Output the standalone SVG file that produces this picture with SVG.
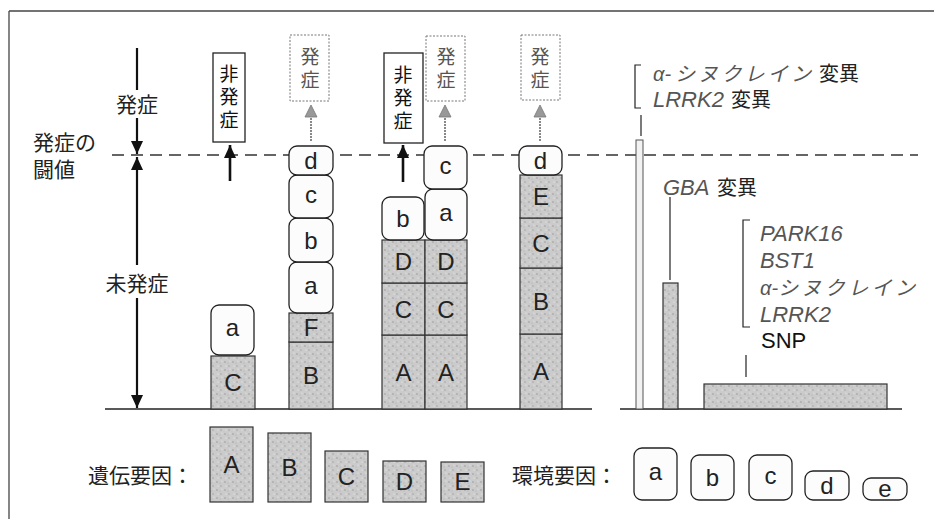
<svg xmlns="http://www.w3.org/2000/svg" width="934" height="519" viewBox="0 0 934 519">
<defs>
<pattern id="stip" width="8" height="8" patternUnits="userSpaceOnUse">
<rect width="8" height="8" fill="#cbcbcb"/>
<circle cx="1" cy="2" r="0.7" fill="#8f8f8f"/>
<circle cx="5" cy="6" r="0.7" fill="#999"/>
<circle cx="6" cy="1" r="0.6" fill="#eee"/>
<circle cx="2" cy="6" r="0.6" fill="#f0f0f0"/>
<circle cx="4" cy="3" r="0.5" fill="#a8a8a8"/>
</pattern>
<marker id="hb" viewBox="0 0 13 12" refX="13" refY="6" markerWidth="13" markerHeight="12" markerUnits="userSpaceOnUse" orient="auto">
<path d="M0,0 L13,6 L0,12 Z" fill="#111"/>
</marker>
</defs>
<style>
.gene{fill:url(#stip);stroke:#333;stroke-width:1.2}
.env{fill:#fcfcfc;stroke:#222;stroke-width:1.3}
.lt{font-family:"Liberation Sans",Arial,sans-serif;font-size:24px;text-anchor:middle;fill:#222}
.jp{font-family:"Noto Sans CJK JP",sans-serif;font-size:21px;fill:#222}
.vt{font-family:"Noto Sans CJK JP",sans-serif;font-size:19px;text-anchor:middle;fill:#111;writing-mode:vertical-rl;letter-spacing:4px}
.vg{font-family:"Noto Sans CJK JP",sans-serif;font-size:19px;text-anchor:middle;fill:#555;writing-mode:vertical-rl;letter-spacing:4px}
.nbox{fill:#fff;stroke:#222;stroke-width:1.3}
.obox{fill:#fff;stroke:#777;stroke-width:1;stroke-dasharray:2 1.5}
.it{font-family:"Liberation Sans",Arial,sans-serif;font-size:22px;font-style:italic;fill:#555}
.itj{font-family:"Noto Sans CJK JP",sans-serif;font-size:20px;font-style:italic;fill:#555}
.rl{font-family:"Noto Sans CJK JP",sans-serif;font-size:20px;fill:#222}
.ln{stroke:#222;stroke-width:1.2;fill:none}
.ax{stroke:#111;stroke-width:2.2}
.na{stroke:#111;stroke-width:2.6}
</style>

<g id="frame">
<line x1="9" y1="11" x2="934" y2="11" stroke="#444" stroke-width="1.3"/>
<line x1="9" y1="11" x2="9" y2="519" stroke="#444" stroke-width="1.3"/>
</g>

<g id="connectors">
<line x1="112" y1="155" x2="918" y2="155" stroke="#333" stroke-width="1.3" stroke-dasharray="12 7"/>
<line x1="105" y1="409" x2="592" y2="409" stroke="#222" stroke-width="1.5"/>
<line x1="620" y1="409" x2="902" y2="409" stroke="#222" stroke-width="1.5"/>
<line class="ax" x1="137" y1="48" x2="137" y2="90"/>
<line class="ax" x1="137" y1="118" x2="137" y2="154" marker-end="url(#hb)"/>
<line class="ax" x1="137" y1="265" x2="137" y2="157" marker-end="url(#hb)"/>
<line class="ax" x1="137" y1="298" x2="137" y2="408" marker-end="url(#hb)"/>
<line class="na" x1="230" y1="181" x2="230" y2="145" marker-end="url(#hb)"/>
<line class="na" x1="403" y1="182" x2="403" y2="145" marker-end="url(#hb)"/>
<g stroke="#888" stroke-width="2" stroke-dasharray="2 1">
<line x1="311" y1="141" x2="311" y2="116"/>
<line x1="445" y1="141" x2="445" y2="116"/>
<line x1="540" y1="141" x2="540" y2="116"/>
</g>
<g fill="#999" stroke="#777" stroke-width="0.8">
<path d="M305,117 L311,105 L317,117 Z"/>
<path d="M439,117 L445,105 L451,117 Z"/>
<path d="M534,117 L540,105 L546,117 Z"/>
</g>
<line class="ln" x1="641" y1="115" x2="641" y2="136"/>
<line class="ln" x1="670" y1="197" x2="670" y2="280"/>
<line class="ln" x1="746" y1="355" x2="746" y2="377"/>
<path class="ln" d="M641,65 L635,65 L635,108 L641,108"/>
<path class="ln" d="M750,220 L743,220 L743,327 L750,327"/>
</g>

<g id="axis-labels">
<text class="jp" x="137" y="112" text-anchor="middle">発症</text>
<text class="jp" x="33" y="150">発症の<tspan x="33" y="177">闘値</tspan></text>
<text class="jp" x="137" y="291" text-anchor="middle">未発症</text>
</g>

<g id="nonset1">
<rect class="nbox" x="213" y="53" width="32" height="89"/>
<text class="vt" x="229" y="99">非発症</text>
</g>
<g id="onset2">
<rect class="obox" x="290" y="35" width="39" height="66"/>
<text class="vg" x="310" y="70">発症</text>
</g>
<g id="nonset3">
<rect class="nbox" x="384" y="53" width="39" height="90"/>
<text class="vt" x="403" y="100">非発症</text>
</g>
<g id="onset4">
<rect class="obox" x="426" y="36" width="39" height="65"/>
<text class="vg" x="446" y="70">発症</text>
</g>
<g id="onset5">
<rect class="obox" x="521" y="35" width="39" height="65"/>
<text class="vg" x="540" y="70">発症</text>
</g>

<g id="stack1">
<rect class="gene" x="211" y="356" width="44" height="53"/><text class="lt" x="233" y="391">C</text>
<rect class="env" x="211" y="305" width="43" height="50" rx="8"/><text class="lt" x="232.5" y="336">a</text>
</g>
<g id="stack2">
<rect class="gene" x="289" y="342" width="44" height="67"/><text class="lt" x="311" y="384">B</text>
<rect class="gene" x="289" y="313" width="44" height="29"/><text class="lt" x="311" y="336">F</text>
<rect class="env" x="289" y="262" width="44" height="51" rx="8"/><text class="lt" x="311" y="294">a</text>
<rect class="env" x="289" y="218" width="44" height="44" rx="8"/><text class="lt" x="311" y="249">b</text>
<rect class="env" x="289" y="175" width="44" height="43" rx="8"/><text class="lt" x="311" y="203">c</text>
<rect class="env" x="289" y="146" width="44" height="29" rx="8"/><text class="lt" x="311" y="169">d</text>
</g>
<g id="stack3">
<rect class="gene" x="382" y="335" width="43" height="74"/><text class="lt" x="403.5" y="381">A</text>
<rect class="gene" x="382" y="283" width="43" height="52"/><text class="lt" x="403.5" y="318">C</text>
<rect class="gene" x="382" y="240" width="43" height="43"/><text class="lt" x="403.5" y="270">D</text>
<rect class="env" x="382" y="197" width="42" height="43" rx="8"/><text class="lt" x="403" y="227">b</text>
</g>
<g id="stack4">
<rect class="gene" x="425" y="335" width="42" height="74"/><text class="lt" x="446" y="381">A</text>
<rect class="gene" x="425" y="283" width="42" height="52"/><text class="lt" x="446" y="318">C</text>
<rect class="gene" x="425" y="240" width="42" height="43"/><text class="lt" x="446" y="270">D</text>
<rect class="env" x="425" y="189" width="42" height="51" rx="8"/><text class="lt" x="446" y="221">a</text>
<rect class="env" x="424" y="146" width="43" height="43" rx="8"/><text class="lt" x="445.5" y="174">c</text>
</g>
<g id="stack5">
<rect class="gene" x="520" y="334" width="42" height="75"/><text class="lt" x="541" y="380">A</text>
<rect class="gene" x="520" y="268" width="42" height="66"/><text class="lt" x="541" y="310">B</text>
<rect class="gene" x="520" y="218" width="42" height="50"/><text class="lt" x="541" y="252">C</text>
<rect class="gene" x="520" y="175" width="42" height="43"/><text class="lt" x="541" y="205">E</text>
<rect class="env" x="519" y="146" width="43" height="29" rx="8"/><text class="lt" x="540.5" y="169">d</text>
</g>

<g id="bar-mutation">
<rect x="636" y="140" width="7" height="269" fill="#f2f2f2" stroke="#555" stroke-width="1"/>
<text class="rl" x="653" y="81"><tspan class="it" style="font-size:20px">α-</tspan><tspan class="itj" x="675" style="letter-spacing:3.2px">シヌクレイン</tspan><tspan x="819">変異</tspan><tspan class="it" x="653" y="107">LRRK2</tspan><tspan x="731" y="107">変異</tspan></text>
</g>
<g id="bar-gba">
<rect class="gene" x="663" y="283" width="15" height="126" stroke-width="1"/>
<text class="it" x="663" y="195">GBA</text>
<text class="rl" x="717" y="195">変異</text>
</g>
<g id="bar-snp">
<rect class="gene" x="704" y="384" width="183" height="25" stroke-width="1"/>
<text class="it" x="760" y="241">PARK16</text>
<text class="it" x="760" y="268">BST1</text>
<text class="it" x="760" y="295" style="font-size:20px">α-</text>
<text class="itj" x="778" y="295" textLength="137" lengthAdjust="spacing">シヌクレイン</text>
<text class="it" x="760" y="322">LRRK2</text>
<text x="761" y="348" style="font-family:'Liberation Sans',Arial,sans-serif;font-size:22px;fill:#111">SNP</text>
</g>

<g id="legend-genetic">
<text class="jp" x="88" y="483">遺伝要因：</text>
<rect class="gene" x="210" y="427" width="43" height="75"/><text class="lt" x="231.5" y="473">A</text>
<rect class="gene" x="268" y="433" width="43" height="69"/><text class="lt" x="289.5" y="476">B</text>
<rect class="gene" x="325" y="451" width="43" height="51"/><text class="lt" x="346.5" y="485">C</text>
<rect class="gene" x="383" y="461" width="43" height="41"/><text class="lt" x="404.5" y="490">D</text>
<rect class="gene" x="441" y="462" width="43" height="40"/><text class="lt" x="462.5" y="490">E</text>
</g>
<g id="legend-env">
<text class="jp" x="512" y="483">環境要因：</text>
<rect class="env" x="634" y="448" width="43" height="52" rx="8"/><text class="lt" x="655.5" y="480">a</text>
<rect class="env" x="691" y="455" width="43" height="45" rx="8"/><text class="lt" x="712.5" y="486">b</text>
<rect class="env" x="749" y="455" width="43" height="45" rx="8"/><text class="lt" x="770.5" y="484">c</text>
<rect class="env" x="805" y="471" width="44" height="29" rx="8"/><text class="lt" x="827" y="494">d</text>
<rect class="env" x="863" y="478" width="44" height="22" rx="8"/><text class="lt" x="885" y="497">e</text>
</g>
</svg>
